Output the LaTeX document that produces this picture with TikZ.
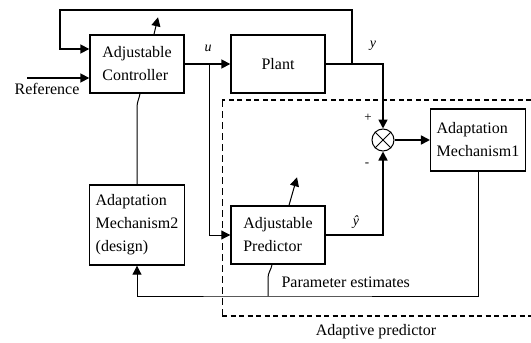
\documentclass[tikz,border=0pt]{standalone}
\usepackage{fontspec}
\setmainfont{Liberation Serif}
\usepackage{tikz}
\usetikzlibrary{arrows.meta,positioning}

\begin{document}
\begin{tikzpicture}[x=1pt,y=-1pt,font=\fontsize{16}{23}\selectfont,box/.style={draw,line width=1.4pt,fill=white,align=left,minimum width=94pt,minimum height=58pt,inner sep=6pt},sig/.style={line width=1.7pt},ln/.style={line width=1pt},arr/.style={-{Triangle[length=9pt,width=9pt]}},lbl/.style={font=\fontsize{14}{16}\selectfont\itshape}]
\useasboundingbox (0,0) rectangle (531,343);
\node[box] (ctrl) at (137,64) {Adjustable\\Controller};
\node[box,align=center] (plant) at (278,64) {Plant};
\node[box,minimum height=80pt] (mech2) at (137,225) {Adaptation\\Mechanism2\\(design)};
\node[box] (pred) at (278,235) {Adjustable\\Predictor};
\node[draw,circle,ln,minimum size=22pt,inner sep=0pt] (sum) at (383,140) {};
\node[box,minimum height=62pt] (mech1) at (478,140) {Adaptation\\Mechanism1};
\draw[ln] (sum.north west)--(sum.south east) (sum.north east)--(sum.south west);
\node (ref) at (47,89) {Reference};
% branch points and corners
\coordinate (ub) at (209,64);
\coordinate (yb) at (352,64);
\coordinate (tl) at (60,10);
\coordinate (pe) at (268,296);
% signal paths
\draw[sig,arr] ([xshift=-62pt,yshift=-14pt]ctrl.west)--([yshift=-14pt]ctrl.west);
\draw[sig,arr] (ctrl.east)--(plant.west);
\draw[sig,arr] (plant.east)-|(sum.north);
\draw[sig,arr] (yb)|-(tl)|-([yshift=15pt]ctrl.west);
\draw[ln,arr] (ub)|-(pred.west);
\draw[sig,arr] (pred.east)-|(sum.south);
\draw[sig,arr] (sum.east)--(mech1.west);
\draw[ln,arr] (mech1.south)|-(pe)-|(mech2.south);
\draw[ln] (mech2.north)--++(0,-77) to[out=90,in=-100] ([xshift=3pt]ctrl.south);
\draw[ln] (pe)--++(0,-18) to[out=90,in=-100] ([xshift=-6pt]pred.south);
% adjustment arrows
\draw[ln,arr] ([xshift=17pt]ctrl.north)--++(4,-17);
\draw[ln,arr] ([xshift=11pt]pred.north)--++(8,-28);
% labels
\node[lbl] at (208,48) {u};
\node[lbl] at (373,46) {y};
\node[lbl] at (356,222) {ŷ};
\node[font=\fontsize{13}{14}\selectfont] at (368,118) {+};
\node[font=\fontsize{13}{14}\selectfont] at (367,165) {-};
\node[anchor=west] at (278,282) {Parameter estimates};
% adaptive predictor region
\draw[line width=1.5pt,dash pattern=on 5pt off 3.5pt] (531,100)--(222,100) (222,316)--(531,316);
\draw[line width=0.9pt,dash pattern=on 7pt off 4pt] (222,100)--(222,316);
\node at (376,332) {Adaptive predictor};
\end{tikzpicture}
\end{document}
